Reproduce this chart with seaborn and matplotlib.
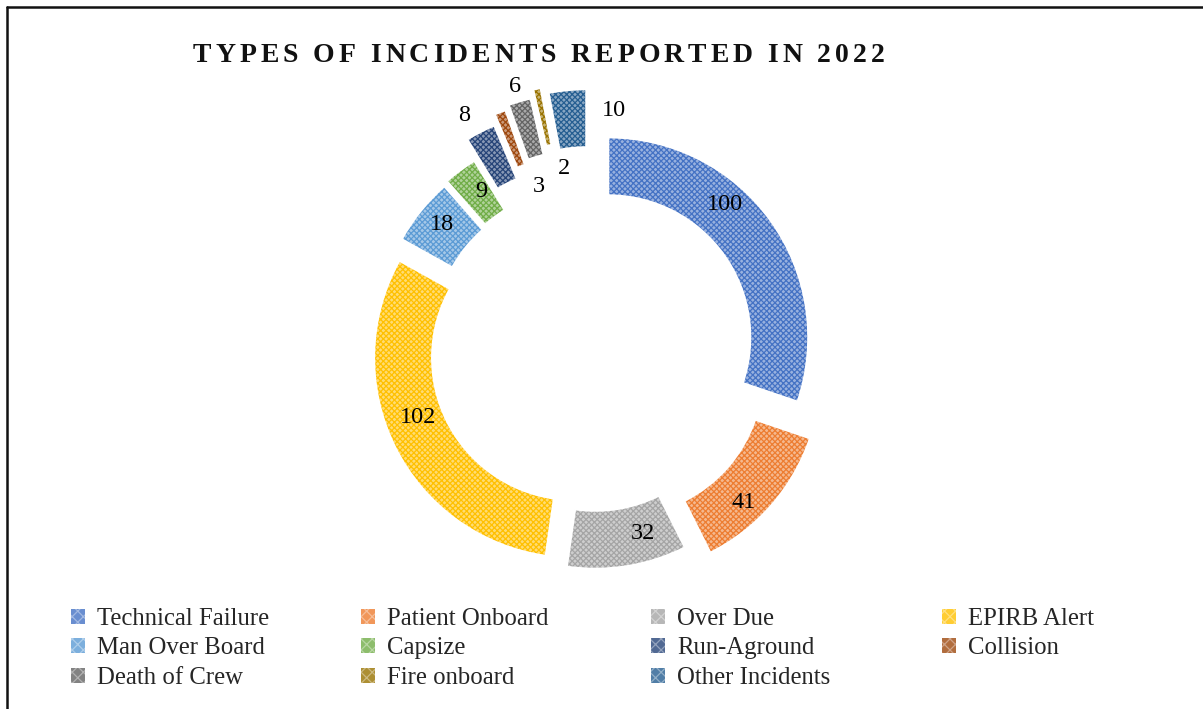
import matplotlib
matplotlib.use("Agg")
import matplotlib.pyplot as plt
from matplotlib.patches import Patch
from matplotlib.lines import Line2D
from matplotlib.colors import to_rgb
from matplotlib import font_manager
from matplotlib.ft2font import FT2Font
import numpy as np
import seaborn as sns

# Incident categories and counts for 2022
categories = ["Technical Failure", "Patient Onboard", "Over Due", "EPIRB Alert",
              "Man Over Board", "Capsize", "Run-Aground", "Collision",
              "Death of Crew", "Fire onboard", "Other Incidents"]
counts = [100, 41, 32, 102, 18, 9, 8, 3, 6, 2, 10]
title_text = "TYPES OF INCIDENTS REPORTED IN 2022"

# Office-style palette
base_colors = ["#4472C4", "#ED7D31", "#A5A5A5", "#FFC000", "#5B9BD5", "#70AD47",
               "#264478", "#9E480E", "#636363", "#997300", "#255E91"]

# Per-slice explosion (fraction of the radius)
explode = [0.1, 0.19, 0.1, 0.1, 0.1, 0.11, 0.22, 0.27, 0.29, 0.33, 0.3]

# Value label placement: angular nudge (deg, clockwise) and distance from the centre (radii)
label_nudge = [-11.7, 4.3, -6.3, 4.8, 0.7, 1.4, -1.6, 3.2, 0.0, 3.2, 10.7]
label_dist = [0.98, 1.08, 0.955, 0.935, 0.975, 0.96, 1.33, 0.855, 1.365, 0.915, 1.2]

sns.set_theme(style="white")
plt.rcParams["font.family"] = ["Liberation Serif", "DejaVu Serif"]
plt.rcParams["hatch.linewidth"] = 0.9

W, H = 1203, 709
R = 200.0
cx, cy = 592.0, 349.0  # donut centre, pixels from top-left

fig = plt.figure(figsize=(W / 100, H / 100), dpi=100)
fig.patch.set_facecolor("white")


def tint(c, t):
    r = np.array(to_rgb(c))
    return tuple(r * (1 - t) + t)


fills = [tint(c, 0.45) for c in base_colors]
hatch = "xxxxxx"

ax = fig.add_axes([0, 0, 1, 1])
pie_kw = dict(radius=1.0, startangle=90, counterclock=False, explode=explode)
wedges, _ = ax.pie(counts, colors=fills, wedgeprops=dict(width=0.29, linewidth=0), **pie_kw)
for w, c in zip(wedges, base_colors):
    w.set_edgecolor(c)
    w.set_linewidth(0)
    w.set_hatch(hatch)
# thin white outline around every slice
ax.pie(counts, colors=["none"] * len(counts),
       wedgeprops=dict(width=0.29, linewidth=1.5, edgecolor="white", fill=False), **pie_kw)
ax.set_xlim(-cx / R, (W - cx) / R)
ax.set_ylim(-(H - cy) / R, cy / R)
ax.axis("off")

# Value labels
for w, v, dn, dr in zip(wedges, counts, label_nudge, label_dist):
    mid = np.deg2rad((w.theta1 + w.theta2) / 2 - dn)
    ax.text(dr * np.cos(mid), dr * np.sin(mid), f"{v}", ha="center", va="center",
            fontsize=17.5, color="black")

# Letter-spaced title, drawn glyph by glyph
title_size = 20
title_left, title_right, title_base = 193.0, 882.0, 61.5
tprops = font_manager.FontProperties(family="Liberation Serif", weight="bold")
ft = FT2Font(font_manager.findfont(tprops))
ft.set_size(title_size, 100)
adv = [ft.load_char(ord(ch)).linearHoriAdvance / 65536.0 for ch in title_text]
last_ink = ft.load_char(ord(title_text[-1])).width / 64.0
track = (title_right - title_left - sum(adv[:-1]) - last_ink) / (len(title_text) - 1)
xpos = title_left
for ch, a in zip(title_text, adv):
    if ch != " ":
        fig.text(xpos / W, 1 - title_base / H, ch, ha="left", va="baseline",
                 fontproperties=tprops, fontsize=title_size, color="#111111")
    xpos += a + track

# Legend laid out in four columns, filled row by row
ncols = 4
col_x = [71, 361, 651, 942]
legend_top = 608
for j in range(ncols):
    idx = list(range(j, len(categories), ncols))
    handles = [Patch(facecolor=tint(base_colors[i], 0.2), edgecolor=tint(base_colors[i], 0.5),
                     hatch="xxx", linewidth=0) for i in idx]
    labels = [categories[i] for i in idx]
    fig.legend(handles, labels, loc="upper left",
               bbox_to_anchor=(col_x[j] / W, 1 - legend_top / H),
               frameon=False, fontsize=17.8, borderpad=0, borderaxespad=0,
               handlelength=0.55, handleheight=0.55, handletextpad=0.5,
               labelspacing=0.3)

# Chart frame edges
fig.add_artist(Line2D([7 / W, 7 / W], [0, 1 - 7 / H], transform=fig.transFigure,
                      color="#111111", lw=1.8))
fig.add_artist(Line2D([7 / W, 1], [1 - 7 / H, 1 - 7 / H], transform=fig.transFigure,
                      color="#111111", lw=1.8))

fig.savefig("out.png", dpi=100)
